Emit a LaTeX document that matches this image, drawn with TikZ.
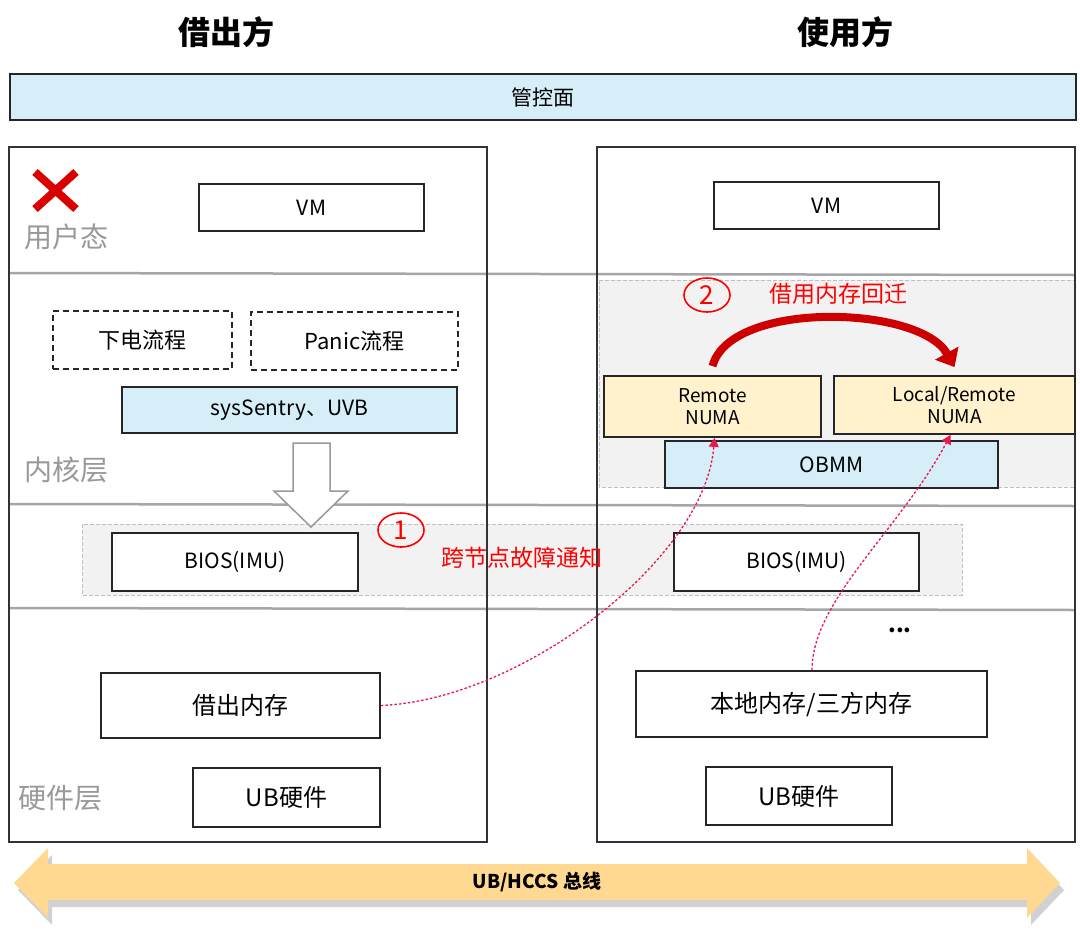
\documentclass[tikz,border=0pt]{standalone}
\usepackage{fontspec}
\setmainfont{Noto Sans CJK SC}
\usetikzlibrary{shapes.geometric,arrows.meta,calc}
\definecolor{ctlblue}{HTML}{D5EEF8}
\definecolor{numayel}{HTML}{FFF2CC}
\definecolor{bandgray}{HTML}{F2F2F2}
\definecolor{notered}{HTML}{E8184B}
\definecolor{busamber}{HTML}{FFD991}
\newcommand{\fsz}[1]{\fontsize{#1pt}{#1pt}\selectfont}
\tikzset{
  box/.style={draw=black!85, line width=1.8pt, fill=white, align=center,
    inner sep=2pt, font=\fsz{21}},
  dbox/.style={box, dash pattern=on 6pt off 4pt, fill=none, font=\fsz{22}},
  bbox/.style={box, fill=ctlblue},
  ybox/.style={box, fill=numayel, font=\fontsize{19pt}{22pt}\selectfont},
  panel/.style={draw=black!80, line width=1.6pt, inner sep=0pt},
  band/.style={draw=black!25, dash pattern=on 4pt off 2pt, fill=bandgray, line width=0.8pt},
  layer/.style={anchor=west, text=black!40, font=\fsz{28}},
  sep/.style={draw=black!35, line width=2.5pt},
  note/.style={text=red, font=\fsz{23}},
  num/.style={ellipse, draw=red, line width=1.6pt, text=red, minimum width=46pt,
    minimum height=34pt, inner sep=0pt, font=\fsz{26}},
  ttl/.style={font=\bfseries\fsz{32}},
  recall/.style={-{Triangle[length=9pt,width=10pt]}, draw=notered, line width=1.3pt,
    dash pattern=on 2.5pt off 2pt},
  mig/.style={-{Triangle[length=16pt,width=26pt]}, line width=8pt, draw=red!80!black},
}

\begin{document}
\begin{tikzpicture}[x=1pt, y=-1pt]
    \useasboundingbox (0,0) rectangle (1080,932);
    % titles
    \node[ttl] (lend) at (226,32) {借出方};
    \node[ttl] (use) at (845,32) {使用方};
    \node[bbox, line width=1.4pt, minimum width=1066pt, minimum height=46pt] (ctl) at (543,97) {管控面};
    % grey bands
    \draw[band] (599,280) rectangle (1075,487);
    \draw[band] (82,524) rectangle (962,595);
    % layer lines
    \draw[sep] (9,273) -- (1075,275);
    \draw[sep] (9,504) -- (1075,506);
    \draw[sep] (9,608) -- (1075,610);
    % panels
    \node[panel, minimum width=478pt, minimum height=695pt] (lp) at (248,494.5) {};
    \node[panel, minimum width=478pt, minimum height=695pt] (rp) at (836,494.5) {};
    \node[layer] (usr) at (21,237) {用户态};
    \node[layer] (krn) at (21,470) {内核层};
    \node[layer] (hw) at (15,798) {硬件层};
    \draw[line width=8pt, red!85!black] (35,172) -- (76,209) (35,209) -- (76,172);
    % lender side
    \node[box, minimum width=225pt, minimum height=47pt] (vml) at (311.5,207.5) {VM};
    \node[dbox, minimum width=179pt, minimum height=58pt] (pwr) at (142.5,340) {下电流程};
    \node[dbox, minimum width=207pt, minimum height=58pt] (pan) at (354.5,341) {Panic流程};
    \node[bbox, minimum width=335pt, minimum height=46pt] (sys) at (289.5,410) {sysSentry、UVB};
    \node[box, minimum width=246pt, minimum height=58pt] (biosl) at (235,562) {BIOS(IMU)};
    \node[box, font=\fsz{24}, minimum width=279pt, minimum height=65pt] (lmem) at (240.5,705.5) {借出内存};
    \node[box, font=\fsz{24}, minimum width=187pt, minimum height=59pt] (ubl) at (286.5,797.5) {UB硬件};
    \draw[draw=black!40, line width=1.5pt, fill=white] (293,443) -- (330,443) -- (330,491)
      -- (348,491) -- (311,527) -- (274,491) -- (293,491) -- cycle;
    \node[num] (one) at (401,530) {1};
    \node[note] (fault) at (522,558) {跨节点故障通知};
    % user side
    \node[box, minimum width=225pt, minimum height=47pt] (vmr) at (826.5,205.5) {VM};
    \node[num] (two) at (707,295) {2};
    \node[note] (back) at (838,294) {借用内存回迁};
    \node[ybox, minimum width=217pt, minimum height=61pt] (rn) at (712.5,406.5) {Remote\\NUMA};
    \node[ybox, minimum width=241pt, minimum height=58pt] (ln) at (954.5,405) {Local/Remote\\NUMA};
    \node[bbox, minimum width=333pt, minimum height=47pt] (obmm) at (831.5,464.5) {OBMM};
    \node[box, minimum width=245pt, minimum height=58pt] (biosr) at (796.5,562) {BIOS(IMU)};
    \node[font=\bfseries\fsz{22}] (more) at (900,630) {...};
    \node[box, font=\fsz{24}, minimum width=351pt, minimum height=66pt] (rmem) at (811.5,704) {本地内存/三方内存};
    \node[box, font=\fsz{24}, minimum width=186pt, minimum height=58pt] (ubr) at (799,796) {UB硬件};
    \draw[mig] ([yshift=9pt]rn.north) .. controls (730,300) and (920,305) .. ([yshift=8pt]ln.north);
    \draw[recall] (lmem.east) .. controls (520,700) and (705,560) .. ([xshift=2pt]rn.south);
    \draw[recall] ([xshift=0.5pt]rmem.north) .. controls (812,600) and (900,530) .. ([xshift=-4pt]ln.south);
    % bus
    \fill[black!30, opacity=0.6] (18,890) -- (52,855) -- (52,871) -- (1031,871) -- (1031,855)
      -- (1064,890) -- (1031,925) -- (1031,907) -- (52,907) -- (52,925) -- cycle;
    \fill[busamber] (14,883) -- (48,848) -- (48,864) -- (1027,864) -- (1027,848)
      -- (1060,883) -- (1027,918) -- (1027,900) -- (48,900) -- (48,918) -- cycle;
    \node[font=\bfseries\fsz{19}] (bus) at (537,882) {UB/HCCS 总线};
\end{tikzpicture}
\end{document}
